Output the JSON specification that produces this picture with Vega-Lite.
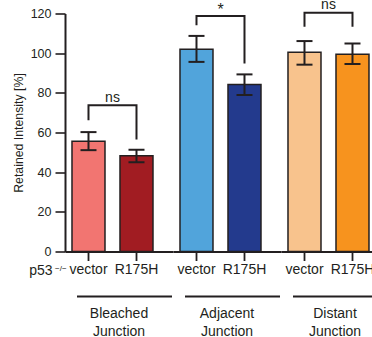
{
  "$schema": "https://vega.github.io/schema/vega-lite/v6.json",
  "padding": {"left": 12, "top": -2.5, "right": 0, "bottom": 0},
  "config": {
    "view": {"stroke": null},
    "font": "Liberation Sans",
    "axis": {"domainColor": "#231f20", "tickColor": "#231f20", "labelColor": "#231f20", "titleColor": "#231f20", "labelFont": "Liberation Sans", "titleFont": "Liberation Sans", "grid": false},
    "axisY": {"values": [0, 20, 40, 60, 80, 100, 120], "titleFontSize": 12.3, "titleFontWeight": "normal", "titlePadding": 5, "labelFontSize": 12.5, "labelPadding": 4, "tickSize": 10, "tickWidth": 1.6, "domainWidth": 2}
  },
  "data": {"values": [
    {"kind": "bar", "group": "Bleached Junction", "genotype": "vector", "cond": "Bleached vector", "mean": 55.6, "lo": 51.1, "hi": 60.2},
    {"kind": "bar", "group": "Bleached Junction", "genotype": "R175H", "cond": "Bleached R175H", "mean": 48.3, "lo": 45.0, "hi": 51.3},
    {"kind": "bar", "group": "Adjacent Junction", "genotype": "vector", "cond": "Adjacent vector", "mean": 102.0, "lo": 95.6, "hi": 108.7},
    {"kind": "bar", "group": "Adjacent Junction", "genotype": "R175H", "cond": "Adjacent R175H", "mean": 84.2, "lo": 78.9, "hi": 89.3},
    {"kind": "bar", "group": "Distant Junction", "genotype": "vector", "cond": "Distant vector", "mean": 100.4, "lo": 94.2, "hi": 106.1},
    {"kind": "bar", "group": "Distant Junction", "genotype": "R175H", "cond": "Distant R175H", "mean": 99.5, "lo": 94.6, "hi": 104.9},
    {"kind": "bracket", "group": "Bleached Junction", "genotype": "vector", "step": 1, "y": 66.2},
    {"kind": "bracket", "group": "Bleached Junction", "genotype": "vector", "step": 2, "y": 73.8},
    {"kind": "bracket", "group": "Bleached Junction", "genotype": "R175H", "step": 3, "y": 73.8},
    {"kind": "bracket", "group": "Bleached Junction", "genotype": "R175H", "step": 4, "y": 56.5},
    {"kind": "bracket", "group": "Adjacent Junction", "genotype": "vector", "step": 1, "y": 114.1},
    {"kind": "bracket", "group": "Adjacent Junction", "genotype": "vector", "step": 2, "y": 118.8},
    {"kind": "bracket", "group": "Adjacent Junction", "genotype": "R175H", "step": 3, "y": 118.8},
    {"kind": "bracket", "group": "Adjacent Junction", "genotype": "R175H", "step": 4, "y": 94.8},
    {"kind": "bracket", "group": "Distant Junction", "genotype": "vector", "step": 1, "y": 113.3},
    {"kind": "bracket", "group": "Distant Junction", "genotype": "vector", "step": 2, "y": 120.4},
    {"kind": "bracket", "group": "Distant Junction", "genotype": "R175H", "step": 3, "y": 120.4},
    {"kind": "bracket", "group": "Distant Junction", "genotype": "R175H", "step": 4, "y": 113.3},
    {"kind": "sig", "group": "Bleached Junction", "genotype": "vector", "label": "ns", "y": 73.8},
    {"kind": "star", "group": "Adjacent Junction", "genotype": "vector", "label": "*", "y": 118.8},
    {"kind": "sig", "group": "Distant Junction", "genotype": "vector", "label": "ns", "y": 120.4},
    {"kind": "p53", "group": "Bleached Junction", "genotype": "vector", "label": "p53", "sup": "−/−", "y": 0}
  ]},
  "spacing": 0,
  "bounds": "flush",
  "facet": {
    "column": {
      "field": "group", "type": "nominal",
      "sort": ["Bleached Junction", "Adjacent Junction", "Distant Junction"],
      "title": null,
      "header": {"labelOrient": "bottom", "labelExpr": "split(datum.label, ' ')", "labelFont": "Liberation Sans", "labelFontSize": 14, "labelColor": "#231f20", "labelLineHeight": 18, "labelPadding": 30}
    }
  },
  "spec": {
    "width": 108,
    "height": 238,
    "layer": [
      {
        "transform": [{"filter": "datum.kind === 'bar'"}],
        "mark": {"type": "bar", "stroke": "#231f20", "strokeWidth": 1.5},
        "encoding": {
          "x": {"field": "genotype", "type": "nominal", "sort": ["vector", "R175H"],
            "scale": {"domain": ["vector", "R175H"], "paddingInner": 0.3125, "paddingOuter": 0.28125, "align": 0.259},
            "axis": {"orient": "bottom", "title": null, "domain": true, "domainWidth": 2, "ticks": true, "tickSize": 9, "tickWidth": 1.8, "tickColor": "#231f20", "tickOpacity": 1, "zindex": 1, "labelFontSize": 14, "labelPadding": 2, "labelAngle": 0}},
          "y": {"field": "mean", "type": "quantitative",
            "scale": {"domain": [0, 120], "nice": false},
            "title": "Retained Intensity [%]"},
          "color": {"field": "cond", "type": "nominal", "legend": null,
            "scale": {"domain": ["Bleached vector", "Bleached R175H", "Adjacent vector", "Adjacent R175H", "Distant vector", "Distant R175H"],
              "range": ["#F27571", "#A11C22", "#51A4DB", "#233A8D", "#F8C38D", "#F7931E"]}}
        }
      },
      {
        "transform": [{"filter": "datum.kind === 'bar'"}],
        "mark": {"type": "rule", "stroke": "#231f20", "strokeWidth": 2},
        "encoding": {
          "x": {"field": "genotype", "type": "nominal", "sort": ["vector", "R175H"]},
          "y": {"field": "lo", "type": "quantitative", "title": "Retained Intensity [%]"},
          "y2": {"field": "hi"}
        }
      },
      {
        "transform": [{"filter": "datum.kind === 'bar'"}],
        "mark": {"type": "tick", "color": "#231f20", "size": 16, "thickness": 2, "opacity": 1},
        "encoding": {
          "x": {"field": "genotype", "type": "nominal", "sort": ["vector", "R175H"]},
          "y": {"field": "lo", "type": "quantitative", "title": "Retained Intensity [%]"}
        }
      },
      {
        "transform": [{"filter": "datum.kind === 'bar'"}],
        "mark": {"type": "tick", "color": "#231f20", "size": 16, "thickness": 2, "opacity": 1},
        "encoding": {
          "x": {"field": "genotype", "type": "nominal", "sort": ["vector", "R175H"]},
          "y": {"field": "hi", "type": "quantitative", "title": "Retained Intensity [%]"}
        }
      },
      {
        "transform": [{"filter": "datum.kind === 'bar' && datum.genotype === 'vector'"}],
        "mark": {"type": "rule", "color": "#231f20", "strokeWidth": 2, "strokeDash": [95, 13], "strokeDashOffset": 107},
        "encoding": {
          "y": {"datum": -22.7, "type": "quantitative", "title": "Retained Intensity [%]"}
        }
      },
      {
        "transform": [{"filter": "datum.kind === 'bracket'"}],
        "mark": {"type": "line", "color": "#231f20", "strokeWidth": 2},
        "encoding": {
          "x": {"field": "genotype", "type": "nominal", "sort": ["vector", "R175H"]},
          "y": {"field": "y", "type": "quantitative", "title": "Retained Intensity [%]"},
          "order": {"field": "step", "type": "quantitative"}
        }
      },
      {
        "transform": [{"filter": "datum.kind === 'sig'"}],
        "mark": {"type": "text", "fontSize": 14, "color": "#231f20", "baseline": "alphabetic", "align": "center", "dy": -3.5, "dx": 7.5},
        "encoding": {
          "x": {"field": "genotype", "type": "nominal", "sort": ["vector", "R175H"], "bandPosition": 1},
          "y": {"field": "y", "type": "quantitative", "title": "Retained Intensity [%]"},
          "text": {"field": "label"}
        }
      },
      {
        "transform": [{"filter": "datum.kind === 'star'"}],
        "mark": {"type": "text", "fontSize": 16, "color": "#231f20", "baseline": "alphabetic", "align": "center", "dy": -1, "dx": 7.5},
        "encoding": {
          "x": {"field": "genotype", "type": "nominal", "sort": ["vector", "R175H"], "bandPosition": 1},
          "y": {"field": "y", "type": "quantitative", "title": "Retained Intensity [%]"},
          "text": {"field": "label"}
        }
      },
      {
        "transform": [{"filter": "datum.kind === 'p53'"}],
        "mark": {"type": "text", "fontSize": 14, "color": "#231f20", "baseline": "alphabetic", "align": "right", "dx": -36, "dy": 23},
        "encoding": {
          "x": {"field": "genotype", "type": "nominal", "sort": ["vector", "R175H"]},
          "y": {"field": "y", "type": "quantitative", "title": "Retained Intensity [%]"},
          "text": {"field": "label"}
        }
      },
      {
        "transform": [{"filter": "datum.kind === 'p53'"}],
        "mark": {"type": "text", "fontSize": 8, "color": "#231f20", "baseline": "alphabetic", "align": "left", "dx": -33.5, "dy": 19.8},
        "encoding": {
          "x": {"field": "genotype", "type": "nominal", "sort": ["vector", "R175H"]},
          "y": {"field": "y", "type": "quantitative", "title": "Retained Intensity [%]"},
          "text": {"field": "sup"}
        }
      }
    ]
  }
}
